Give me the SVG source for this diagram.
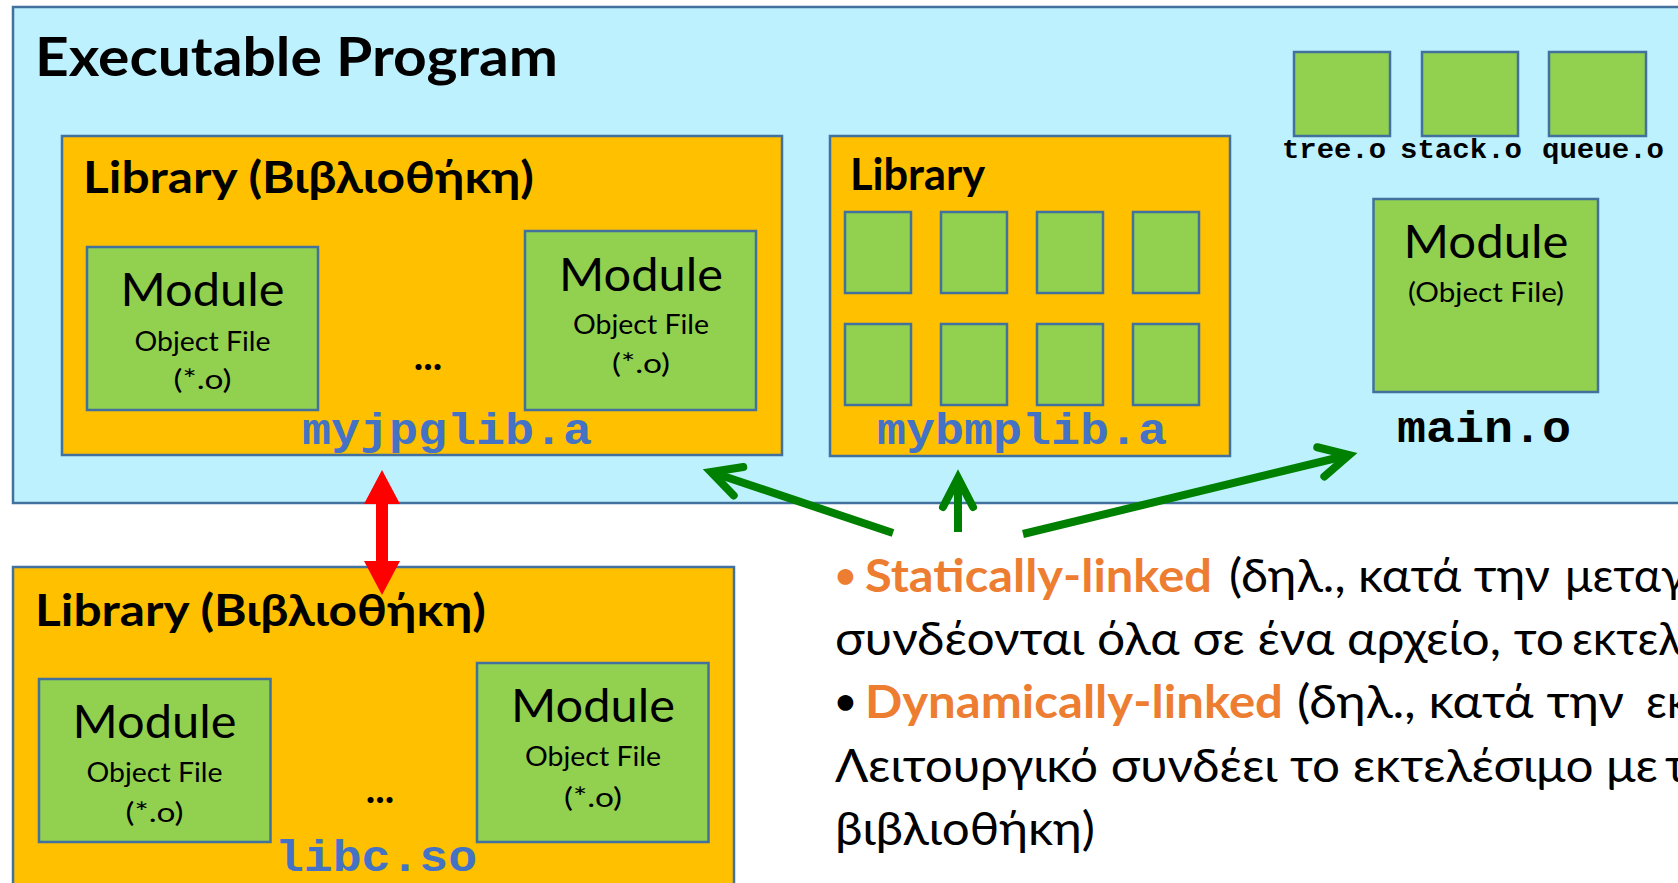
<svg xmlns="http://www.w3.org/2000/svg" width="1678" height="883" viewBox="0 0 1678 883">
  <style>
    .prog { fill: #BDF1FD; stroke: #41719C; stroke-width: 2.5; }
    .lib { fill: #FFC000; stroke: #41719C; stroke-width: 2.5; }
    .obj { fill: #92D050; stroke: #41719C; stroke-width: 2.5; }
    .sans { font-family: Lato, "Open Sans", "Noto Sans", sans-serif; fill: #000; }
    .b { font-weight: bold; }
    .title { font-size: 54px; font-weight: bold; }
    .libtitle { font-size: 43px; font-weight: bold; }
    .mod { font-size: 46px; text-anchor: middle; }
    .objf { font-size: 27px; text-anchor: middle; }
    .dots { font-size: 40px; font-weight: bold; text-anchor: middle; }
    .mono { font-family: "Liberation Mono", "Courier New", monospace; font-weight: bold; }
    .libname { font-size: 45px; fill: #4472C4; }
    .fname { font-size: 27px; fill: #000; }
    .body { font-size: 46px; }
    .bullet { font-size: 36px; }
    .hl { fill: #ED7D31; font-weight: bold; }
    .green { fill: none; stroke: #008000; stroke-width: 8; }
  </style>
  <defs>
    <marker id="openHead" markerUnits="userSpaceOnUse" orient="auto" markerWidth="80" markerHeight="80" viewBox="-40 -40 80 80" refX="0" refY="0">
      <path d="M-29,-15 L0,0 L-29,15" fill="none" stroke="#008000" stroke-width="8" stroke-linecap="round" stroke-linejoin="miter"/>
    </marker>
  </defs>

  <!-- executable program container -->
  <g id="program">
    <rect class="prog" x="13" y="7" width="1700" height="496"/>
    <text class="sans title" x="35" y="76" textLength="523" lengthAdjust="spacingAndGlyphs">Executable Program</text>
  </g>

  <!-- static library: myjpglib.a -->
  <g id="lib-myjpglib">
    <rect class="lib" x="62" y="136" width="720" height="319"/>
    <text class="sans libtitle" x="83" y="193" textLength="451" lengthAdjust="spacingAndGlyphs">Library (Βιβλιοθήκη)</text>
    <g id="jpg-mod-1">
      <rect class="obj" x="87" y="247" width="231" height="163"/>
      <text class="sans mod" x="202.5" y="306" textLength="164" lengthAdjust="spacingAndGlyphs">Module</text>
      <text class="sans objf" x="202.5" y="351" textLength="136" lengthAdjust="spacingAndGlyphs">Object File</text>
      <text class="sans objf" x="202.5" y="389" textLength="58" lengthAdjust="spacingAndGlyphs">(*.o)</text>
    </g>
    <text class="sans dots" x="428" y="370">...</text>
    <g id="jpg-mod-2">
      <rect class="obj" x="525" y="231" width="231" height="179"/>
      <text class="sans mod" x="641" y="291" textLength="164" lengthAdjust="spacingAndGlyphs">Module</text>
      <text class="sans objf" x="641" y="334" textLength="136" lengthAdjust="spacingAndGlyphs">Object File</text>
      <text class="sans objf" x="641" y="373" textLength="58" lengthAdjust="spacingAndGlyphs">(*.o)</text>
    </g>
    <text class="mono libname" x="302" y="444" textLength="290" lengthAdjust="spacingAndGlyphs">myjpglib.a</text>
  </g>

  <!-- static library: mybmplib.a -->
  <g id="lib-mybmplib">
    <rect class="lib" x="830" y="136" width="400" height="320"/>
    <text class="sans libtitle" x="850" y="190" textLength="135" lengthAdjust="spacingAndGlyphs">Library</text>
    <rect class="obj" x="845" y="212" width="66" height="81"/>
    <rect class="obj" x="941" y="212" width="66" height="81"/>
    <rect class="obj" x="1037" y="212" width="66" height="81"/>
    <rect class="obj" x="1133" y="212" width="66" height="81"/>
    <rect class="obj" x="845" y="324" width="66" height="81"/>
    <rect class="obj" x="941" y="324" width="66" height="81"/>
    <rect class="obj" x="1037" y="324" width="66" height="81"/>
    <rect class="obj" x="1133" y="324" width="66" height="81"/>
    <text class="mono libname" x="877" y="444" textLength="290" lengthAdjust="spacingAndGlyphs">mybmplib.a</text>
  </g>

  <!-- loose object files -->
  <g id="tree-o">
    <rect class="obj" x="1294" y="52" width="96" height="84"/>
    <text class="mono fname" x="1282" y="158" textLength="104" lengthAdjust="spacingAndGlyphs">tree.o</text>
  </g>
  <g id="stack-o">
    <rect class="obj" x="1422" y="52" width="96" height="84"/>
    <text class="mono fname" x="1400" y="158" textLength="122" lengthAdjust="spacingAndGlyphs">stack.o</text>
  </g>
  <g id="queue-o">
    <rect class="obj" x="1549" y="52" width="97" height="84"/>
    <text class="mono fname" x="1542" y="158" textLength="122" lengthAdjust="spacingAndGlyphs">queue.o</text>
  </g>

  <!-- main module -->
  <g id="main-o">
    <rect class="obj" x="1373.5" y="199" width="224.5" height="193"/>
    <text class="sans mod" x="1486" y="258" textLength="165" lengthAdjust="spacingAndGlyphs">Module</text>
    <text class="sans objf" x="1486" y="302" textLength="156" lengthAdjust="spacingAndGlyphs">(Object File)</text>
    <text class="mono" x="1397" y="442" font-size="45" textLength="174" lengthAdjust="spacingAndGlyphs">main.o</text>
  </g>

  <!-- shared library: libc.so -->
  <g id="lib-libc">
    <rect class="lib" x="13" y="567" width="721" height="340"/>
    <text class="sans libtitle" x="35" y="626" textLength="451" lengthAdjust="spacingAndGlyphs">Library (Βιβλιοθήκη)</text>
    <g id="libc-mod-1">
      <rect class="obj" x="39" y="679" width="231.5" height="163"/>
      <text class="sans mod" x="154.5" y="738" textLength="164" lengthAdjust="spacingAndGlyphs">Module</text>
      <text class="sans objf" x="154.5" y="782" textLength="136" lengthAdjust="spacingAndGlyphs">Object File</text>
      <text class="sans objf" x="154.5" y="822" textLength="58" lengthAdjust="spacingAndGlyphs">(*.o)</text>
    </g>
    <text class="sans dots" x="380" y="803">...</text>
    <g id="libc-mod-2">
      <rect class="obj" x="477" y="663" width="231.5" height="179"/>
      <text class="sans mod" x="593" y="722" textLength="164" lengthAdjust="spacingAndGlyphs">Module</text>
      <text class="sans objf" x="593" y="766" textLength="136" lengthAdjust="spacingAndGlyphs">Object File</text>
      <text class="sans objf" x="593" y="807" textLength="58" lengthAdjust="spacingAndGlyphs">(*.o)</text>
    </g>
    <text class="mono libname" x="275" y="871" textLength="202" lengthAdjust="spacingAndGlyphs">libc.so</text>
  </g>

  <!-- explanatory bullets -->
  <g id="notes" class="sans body">
    <text class="hl bullet" x="835" y="588">•</text>
    <text class="hl" x="865" y="592" textLength="347" lengthAdjust="spacingAndGlyphs">Statically-linked</text>
    <text x="1229" y="592" textLength="321" lengthAdjust="spacingAndGlyphs">(δηλ., κατά την</text>
    <text x="1565" y="592">μεταγλώττιση τα αρχεία</text>

    <text x="835" y="655" textLength="729" lengthAdjust="spacingAndGlyphs">συνδέονται όλα σε ένα αρχείο, το</text>
    <text x="1572" y="655">εκτελέσιμο)</text>

    <text class="b bullet" x="835" y="714">•</text>
    <text class="hl" x="865" y="718" textLength="418" lengthAdjust="spacingAndGlyphs">Dynamically-linked</text>
    <text x="1297" y="718" textLength="327" lengthAdjust="spacingAndGlyphs">(δηλ., κατά την</text>
    <text x="1646" y="718">εκτέλεση</text>

    <text x="835" y="782" textLength="823" lengthAdjust="spacingAndGlyphs">Λειτουργικό συνδέει το εκτελέσιμο με</text>
    <text x="1665" y="782">την</text>

    <text x="835" y="845" textLength="260" lengthAdjust="spacingAndGlyphs">βιβλιοθήκη)</text>
  </g>

  <!-- connectors -->
  <g id="connectors">
    <polygon fill="#FF0000" points="382,470 400,504 388,504 388,561 400,561 382,595 364,561 376,561 376,504 364,504"/>
    <line class="green" x1="893" y1="533" x2="711" y2="472" marker-end="url(#openHead)"/>
    <line class="green" x1="958" y1="532" x2="958" y2="478" marker-end="url(#openHead)"/>
    <line class="green" x1="1023" y1="534" x2="1349" y2="455" marker-end="url(#openHead)"/>
  </g>
</svg>
